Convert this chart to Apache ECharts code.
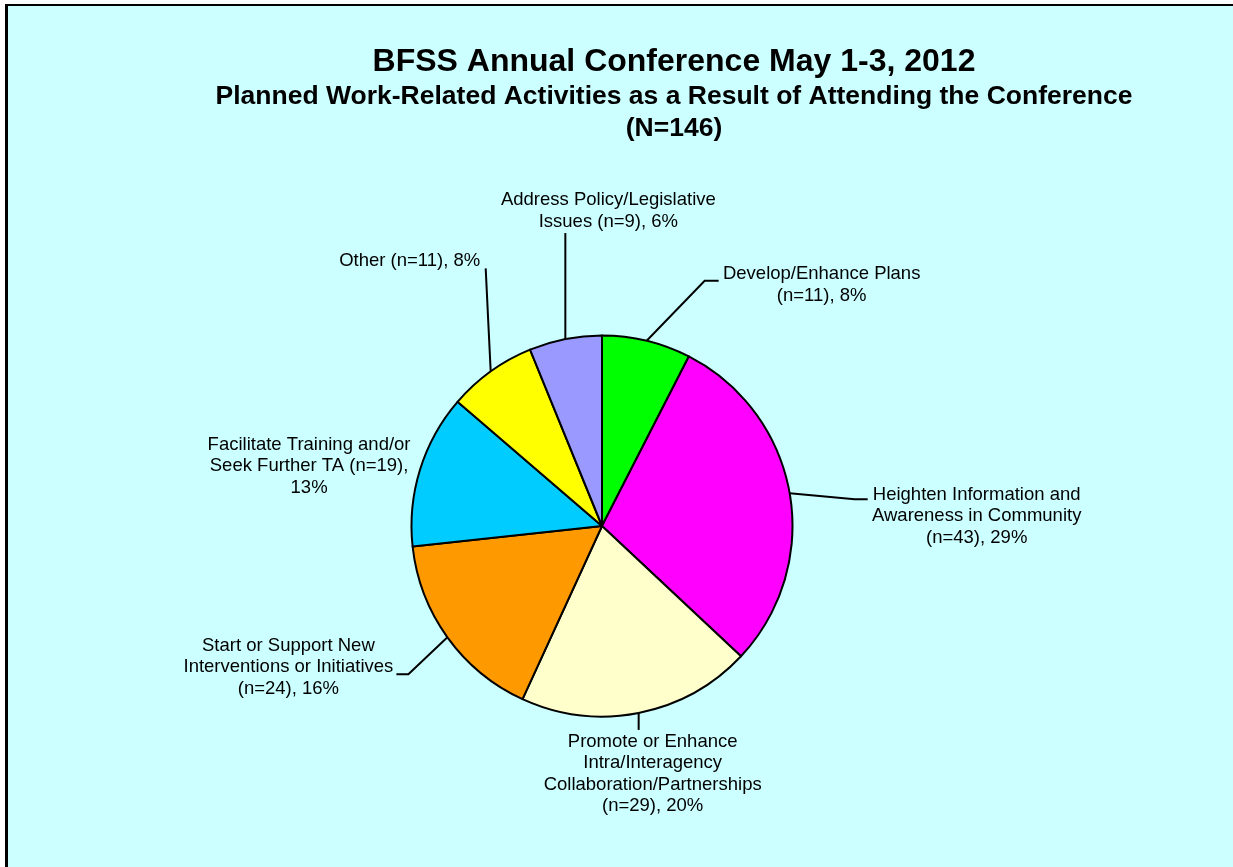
<!DOCTYPE html>
<html>
<head>
<meta charset="utf-8">
<script src="https://cdn.jsdelivr.net/npm/echarts@6/dist/echarts.min.js"></script>
<style>
  html, body { margin: 0; padding: 0; background: #fff; overflow: hidden; width: 1233px; height: 867px; }
  #frame {
    position: absolute; left: 5px; top: 4px; right: 0; bottom: 0;
    background: #ccffff; border-left: 3px solid #000; border-top: 2px solid #000;
  }
  #chart { position: absolute; left: 0; top: 0; width: 1233px; height: 867px; }
</style>
</head>
<body>
<div id="frame"></div>
<div id="chart"></div>
<script>
// slices, clockwise from 12 o'clock
const categories = [
  'Develop/Enhance Plans',
  'Heighten Information and Awareness in Community',
  'Promote or Enhance Intra/Interagency Collaboration/Partnerships',
  'Start or Support New Interventions or Initiatives',
  'Facilitate Training and/or Seek Further TA',
  'Other',
  'Address Policy/Legislative Issues'
];
const counts = [11, 43, 29, 24, 19, 11, 9];
const colors = ['#00ff00', '#ff00ff', '#ffffcc', '#ff9900', '#00ccff', '#ffff00', '#9999ff'];

// how each label is broken into lines ({n} = count, {p} = percent)
const labelFormats = [
  'Develop/Enhance Plans\n(n={n}), {p}%',
  'Heighten Information and\nAwareness in Community\n(n={n}), {p}%',
  'Promote or Enhance\nIntra/Interagency\nCollaboration/Partnerships\n(n={n}), {p}%',
  'Start or Support New\nInterventions or Initiatives\n(n={n}), {p}%',
  'Facilitate Training and/or\nSeek Further TA (n={n}),\n{p}%',
  'Other (n={n}), {p}%',
  'Address Policy/Legislative\nIssues (n={n}), {p}%'
];

// label placement, offsets from the point where the leader leaves the slice
const labelSpots = [
  { text: [175, -56], bend: [58, -60], end: [72, -60] },
  { text: [187, 23], bend: [65, 6], end: [78, 6] },
  { text: [14, 61], bend: [0, 9], end: [0, 17] },
  { text: [-159, 30], bend: [-39, 37], end: [-51, 37] },
  { text: [-111, -3.5], bend: [0, 0], end: [0, 0] },
  { text: [-81, -110], bend: [-2.5, -51], end: [-5, -103] },
  { text: [43, -128], bend: [0, -53], end: [0, -106] }
];

const total = counts.reduce((a, b) => a + b, 0);
const font = "'Liberation Sans', Arial, sans-serif";

const chart = echarts.init(document.getElementById('chart'));

const option = {
  animation: false,
  title: [
    {
      text: 'BFSS Annual Conference May 1-3, 2012',
      left: 674,
      top: 44,
      textAlign: 'center',
      padding: 0,
      textStyle: { fontFamily: font, fontSize: 32, fontWeight: 'bold', color: '#000', lineHeight: 36 }
    },
    {
      text: 'Planned Work-Related Activities as a Result of Attending the Conference\n(N=' + total + ')',
      left: 674,
      top: 81,
      textAlign: 'center',
      padding: 0,
      textStyle: { fontFamily: font, fontSize: 26.5, fontWeight: 'bold', color: '#000', lineHeight: 31.5 }
    }
  ],
  series: [
    {
      type: 'pie',
      center: [602, 526],
      radius: 190.5,
      startAngle: 90,
      clockwise: true,
      emphasis: { disabled: true },
      itemStyle: { borderColor: '#000', borderWidth: 2 },
      label: {
        show: true,
        color: '#000',
        fontFamily: font,
        fontSize: 18.5,
        lineHeight: 21.5,
        formatter: (p) => labelFormats[p.dataIndex]
          .replace('{n}', p.value)
          .replace('{p}', Math.round(p.value / total * 100))
      },
      labelLine: { show: true, lineStyle: { color: '#000', width: 2 } },
      labelLayout: (params) => {
        const spot = labelSpots[params.dataIndex];
        const pts = params.labelLinePoints;
        if (!pts) return {};
        const ax = pts[0][0];
        const ay = pts[0][1];
        return {
          x: ax + spot.text[0],
          y: ay + spot.text[1],
          align: 'center',
          verticalAlign: 'middle',
          labelLinePoints: [
            [ax, ay],
            [ax + spot.bend[0], ay + spot.bend[1]],
            [ax + spot.end[0], ay + spot.end[1]]
          ]
        };
      },
      data: categories.map((name, i) => ({
        name: name,
        value: counts[i],
        itemStyle: { color: colors[i] }
      }))
    }
  ]
};

chart.setOption(option);
</script>
</body>
</html>
